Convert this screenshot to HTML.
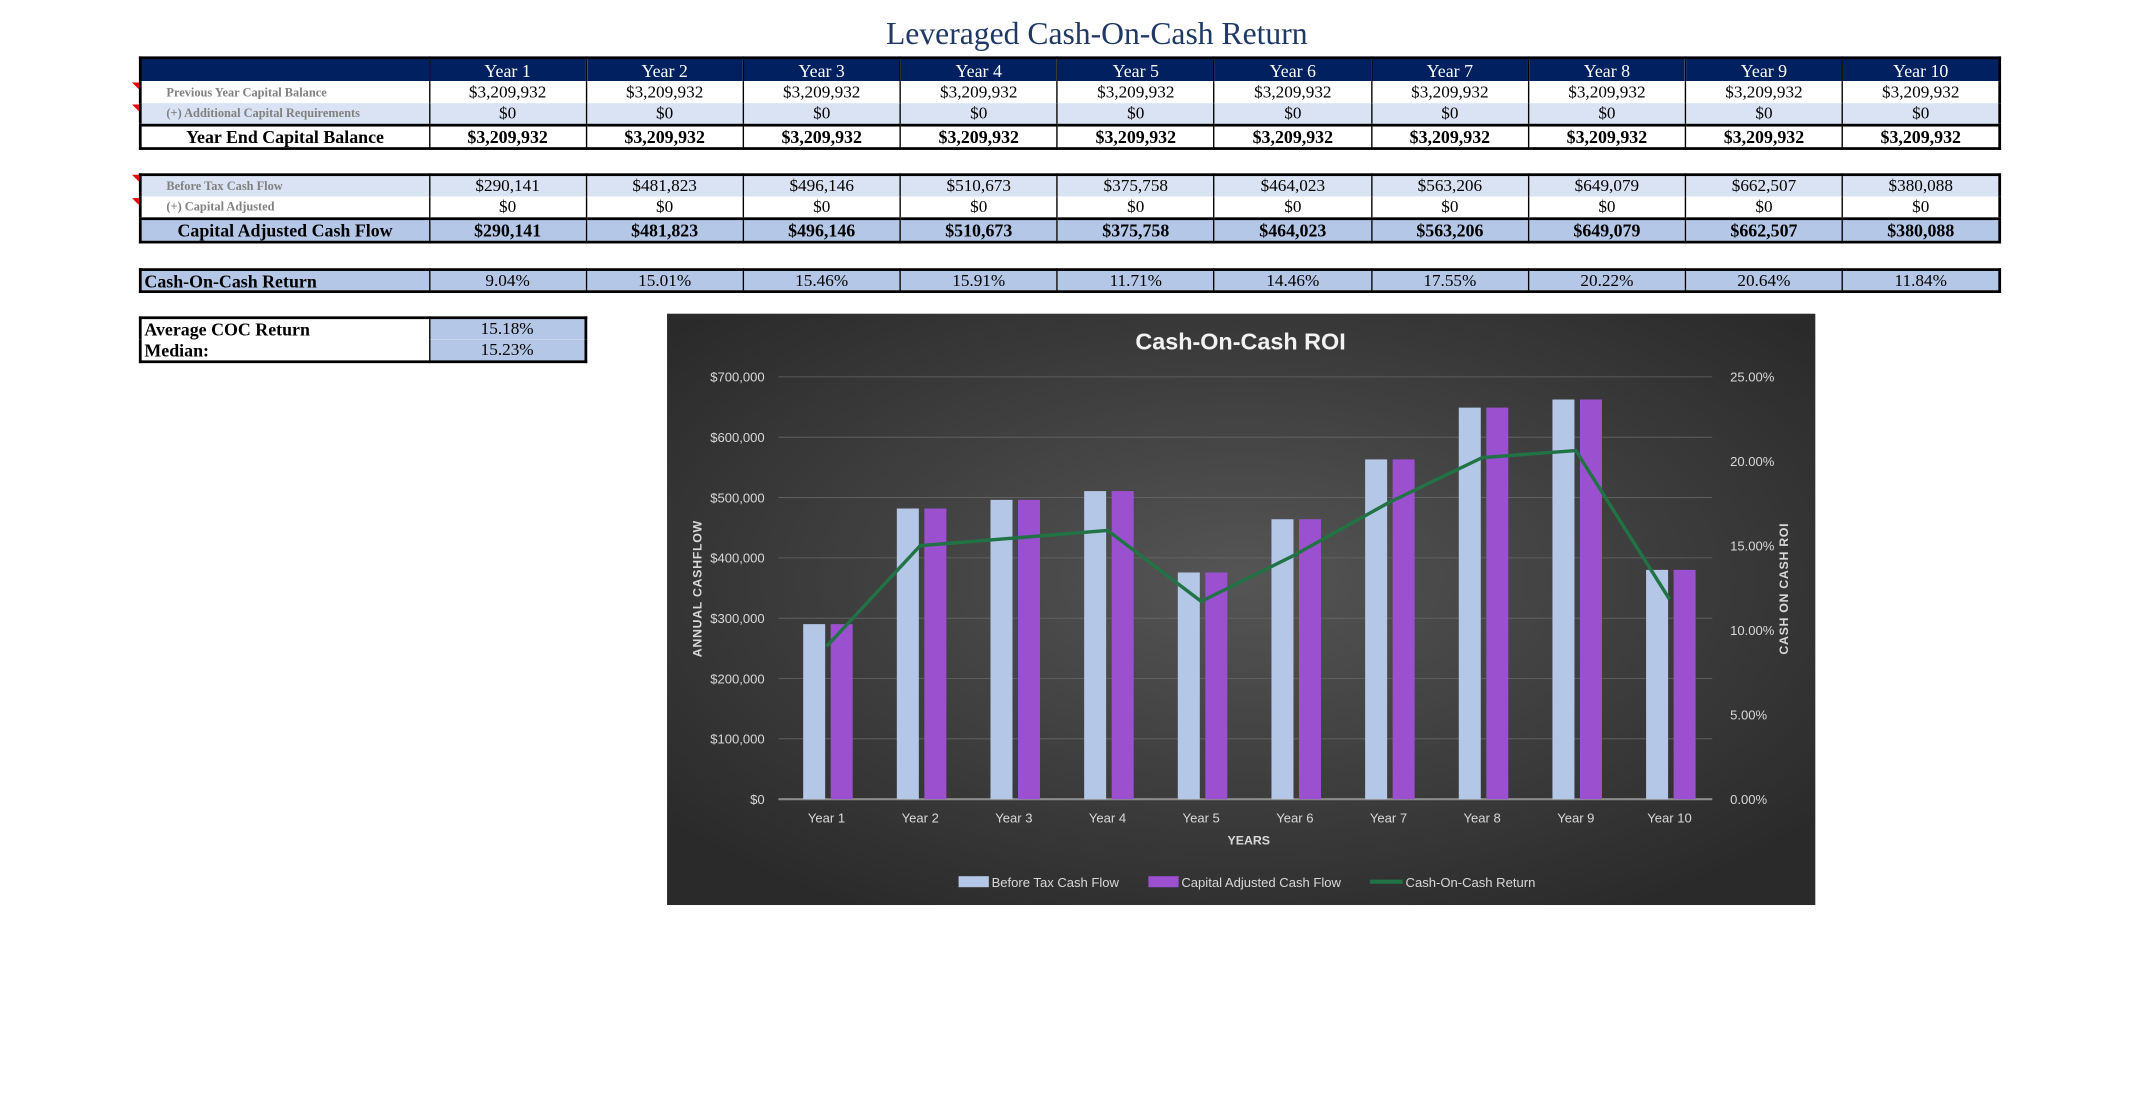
<!DOCTYPE html>
<html><head><meta charset="utf-8"><style>
html,body{margin:0;padding:0;background:#fff;overflow:hidden}
#wrap{position:absolute;left:0;top:0;width:1567px;height:799px;transform:scale(1.3753,1.3755);transform-origin:0 0;font-family:"Liberation Serif",serif}
.tbl{position:absolute;left:101px;border-collapse:collapse;table-layout:fixed;border:2px solid #000}
.tbl td{padding:0;text-align:center;font-size:12.5px;border-left:1px solid #000;white-space:nowrap;overflow:hidden;line-height:1}
.hd td{background:#002060;color:#fff;font-size:13px}
.lbl{text-align:left!important;font-size:9px!important;font-weight:bold;color:#808080;padding-left:18px!important}
.lt td{background:#dae3f3}
.md td{background:#b4c7e7}
.tot td{font-weight:bold;font-size:13px;border-top:2px solid #000}
.tri{position:absolute;left:96px;width:0;height:0;border-top:5px solid #e00;border-left:5px solid transparent}
</style></head><body>
<div id="wrap">
<div style="position:absolute;left:0;width:1595px;text-align:center;top:12px;font-size:23px;color:#1f3864">Leveraged Cash-On-Cash Return</div>
<div id="tables"></div>
<div class="tri" style="top:60px"></div>
<div class="tri" style="top:76px"></div>
<div class="tri" style="top:127px"></div>
<div class="tri" style="top:144px"></div>
<table class="tbl" style="top:230px;width:326px">
<colgroup><col style="width:210px"><col></colgroup>
<tr style="height:16px"><td style="text-align:left;font-weight:bold;font-size:13px;padding-left:2px">Average COC Return</td><td style="background:#b4c7e7">15.18%</td></tr>
<tr style="height:16px"><td style="text-align:left;font-weight:bold;font-size:13px;padding-left:2px">Median:</td><td style="background:#b4c7e7">15.23%</td></tr>
</table>
<svg id="chart" style="position:absolute;left:485px;top:228px" width="835" height="430" font-family="Liberation Sans, sans-serif">
<defs><radialGradient id="bg" cx="50%" cy="45%" r="65%"><stop offset="0" stop-color="#555"/><stop offset="1" stop-color="#2a2a2a"/></radialGradient></defs>
<rect width="835" height="430" fill="url(#bg)"/>
<text x="417" y="26" text-anchor="middle" fill="#f2f2f2" font-size="17" font-weight="bold">Cash-On-Cash ROI</text>
<g id="grid"></g><g id="bars"></g><g id="line"></g><g id="labels"></g>
<text transform="translate(25,200) rotate(-90)" text-anchor="middle" fill="#d9d9d9" font-size="9" font-weight="bold" letter-spacing="0.5">ANNUAL CASHFLOW</text>
<text transform="translate(815,200) rotate(-90)" text-anchor="middle" fill="#d9d9d9" font-size="9" font-weight="bold" letter-spacing="0.5">CASH ON CASH ROI</text>
<text x="423" y="386" text-anchor="middle" fill="#d9d9d9" font-size="9" font-weight="bold">YEARS</text>
<g font-size="9.5" fill="#d9d9d9">
<rect x="212" y="409" width="22" height="8" fill="#b4c7e7"/><text x="236" y="417">Before Tax Cash Flow</text>
<rect x="350" y="409" width="22" height="8" fill="#9b51cf"/><text x="374" y="417">Capital Adjusted Cash Flow</text>
<rect x="511" y="411.5" width="24" height="3" fill="#217346"/><text x="537" y="417">Cash-On-Cash Return</text>
</g>
</svg>
</div>
<script>
const years=["Year 1","Year 2","Year 3","Year 4","Year 5","Year 6","Year 7","Year 8","Year 9","Year 10"];
const prevBalance=[3209932,3209932,3209932,3209932,3209932,3209932,3209932,3209932,3209932,3209932];
const addCapital=[0,0,0,0,0,0,0,0,0,0];
const btcf=[290141,481823,496146,510673,375758,464023,563206,649079,662507,380088];
const capAdj=[0,0,0,0,0,0,0,0,0,0];
const cacf=[290141,481823,496146,510673,375758,464023,563206,649079,662507,380088];
const coc=[9.04,15.01,15.46,15.91,11.71,14.46,17.55,20.22,20.64,11.84];
const leftTicks=[0,100000,200000,300000,400000,500000,600000,700000];
const rightTicks=[0,5,10,15,20,25];

const money=v=>"$"+v.toLocaleString("en-US");
function row(cls,label,lblCls,vals,fmt,h,name){
  let s='<tr class="'+cls+'" style="height:'+h+'px"><td class="'+lblCls+'">'+label+'</td>';
  vals.forEach((v,i)=>{s+='<td>'+fmt(v)+'</td>';});
  return s+'</tr>';
}
const cols='<colgroup><col style="width:210px">'+years.map(()=>'<col>').join('')+'</colgroup>';
let html='';
html+='<table class="tbl" style="top:41px;width:1354px">'+cols+
 row('hd','','',years,v=>v,17,'year-header')+
 row('','Previous Year Capital Balance','lbl',prevBalance,money,16,'previous-balance-row')+
 row('lt','(+) Additional Capital Requirements','lbl',addCapital,money,16,'additional-capital-row')+
 row('tot','Year End Capital Balance','',prevBalance.map((v,i)=>v+addCapital[i]),money,17,'year-end-balance-row')+'</table>';
html+='<table class="tbl" style="top:126px;width:1354px">'+cols+
 row('lt','Before Tax Cash Flow','lbl',btcf,money,16,'btcf-row')+
 row('','(+) Capital Adjusted','lbl',capAdj,money,16,'capital-adjusted-row')+
 row('md tot','Capital Adjusted Cash Flow','',cacf,money,17,'cacf-row')+'</table>';
html+='<table class="tbl" style="top:195px;width:1354px">'+cols+
 row('md','Cash-On-Cash Return','',coc,v=>v.toFixed(2)+"%",16,'coc-row')+'</table>';
document.getElementById('tables').innerHTML=html;
document.querySelectorAll('#tables tr.tot td:first-child,#tables table:last-child td:first-child').forEach(td=>{td.style.fontSize='13px';td.style.fontWeight='bold';});
document.querySelectorAll('#tables table:last-child td:first-child').forEach(td=>{td.style.textAlign='left';td.style.paddingLeft='2px';});

const NS="http://www.w3.org/2000/svg";
const y0=353,yTop=46,x0=81,x1=760;
const yL=v=>y0-(v/700000)*(y0-yTop);
const yR=v=>y0-(v/25)*(y0-yTop);
const xC=i=>116+i*68.1;
function mk(tag,attrs,parent){const e=document.createElementNS(NS,tag);for(const k in attrs)e.setAttribute(k,attrs[k]);document.getElementById(parent).appendChild(e);return e;}
leftTicks.forEach(t=>{
  const g=mk('line',{x1:x0,x2:x1,y1:yL(t),y2:yL(t),stroke:t===0?'#8c8c8c':'#666','stroke-width':t===0?1.5:0.6},'grid');
  
  
  const l=mk('text',{x:71,y:yL(t)+3.5,'text-anchor':'end',fill:'#d9d9d9','font-size':9.5},'labels');
  l.textContent=money(t);
  
  
});
rightTicks.forEach(t=>{
  const l=mk('text',{x:773,y:yR(t)+3.5,fill:'#d9d9d9','font-size':9.5},'labels');
  l.textContent=t.toFixed(2)+"%";
  
  
});
years.forEach((y,i)=>{
  const a=mk('rect',{x:xC(i)-17,y:yL(btcf[i]),width:16,height:y0-yL(btcf[i]),fill:'#b4c7e7'},'bars');
  
  
  const b=mk('rect',{x:xC(i)+3,y:yL(cacf[i]),width:16,height:y0-yL(cacf[i]),fill:'#9b51cf'},'bars');
  
  
  const l=mk('text',{x:xC(i),y:370,'text-anchor':'middle',fill:'#d9d9d9','font-size':9.5},'labels');
  l.textContent=y;
  
  
});
const pl=mk('polyline',{points:coc.map((v,i)=>xC(i)+','+yR(v)).join(' '),fill:'none',stroke:'#217346','stroke-width':2.5,'stroke-linejoin':'round'},'line');


</script>
</body></html>
